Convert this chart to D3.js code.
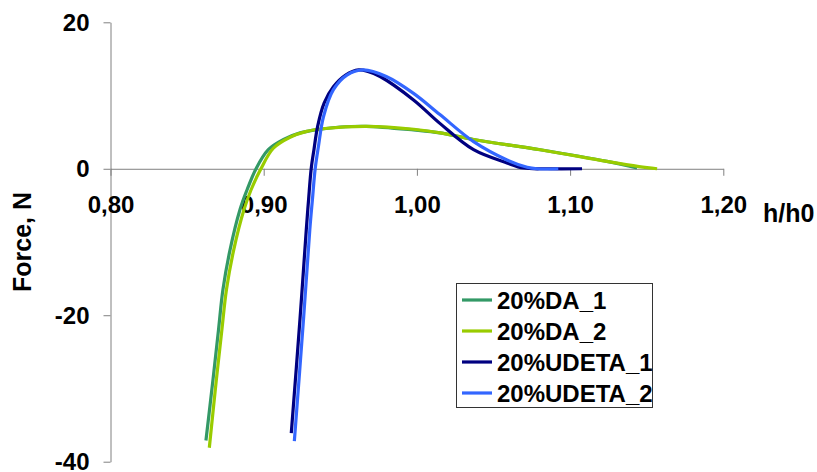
<!DOCTYPE html>
<html>
<head>
<meta charset="utf-8">
<script src="https://cdn.jsdelivr.net/npm/d3@7"></script>
<style>
  body { margin: 0; background: #fff; }
  svg { display: block; }
  text { font-family: "Liberation Sans", Arial, sans-serif; font-weight: bold; fill: #000; }
</style>
</head>
<body>
<svg id="chart" width="817" height="472"></svg>
<script>
// ---- data ----
const seriesNames = ["20%DA_1", "20%DA_2", "20%UDETA_1", "20%UDETA_2"];
const seriesColors = ["#339966", "#99CC00", "#000080", "#3366FF"];

const da1X = [0.8623, 0.8669, 0.8705, 0.8734, 0.8780, 0.8845, 0.8891, 0.8950, 0.9030, 0.9130, 0.9238, 0.9368, 0.9500, 0.9670, 0.9978, 1.0152, 1.0370, 1.0805, 1.1240, 1.1437];
const da1F = [-37.1, -28.8, -22.0, -16.5, -11.1, -5.6, -2.9, 0.0, 2.6, 4.0, 4.9, 5.4, 5.7, 5.8, 5.3, 4.9, 4.0, 2.6, 1.0, 0.1];

const da2X = [0.8645, 0.8691, 0.8727, 0.8757, 0.8804, 0.8871, 0.8917, 0.8982, 0.9063, 0.9172, 0.9280, 0.9400, 0.9670, 0.9980, 1.0152, 1.0370, 1.0805, 1.1240, 1.1450, 1.1568];
const da2F = [-38.1, -28.8, -22.0, -16.5, -11.1, -5.6, -2.9, 0.0, 2.8, 4.3, 5.1, 5.5, 5.8, 5.4, 4.9, 4.0, 2.6, 1.0, 0.3, 0.0];

const ud1X = [0.9180, 0.9237, 0.9278, 0.9293, 0.9310, 0.9328, 0.9352, 0.9395, 0.9455, 0.9535, 0.9620, 0.9680, 0.9760, 0.9978, 1.0150, 1.0370, 1.0588, 1.0696, 1.0850, 1.1078];
const ud1F = [-36.1, -20.5, -8.3, -4.2, 0.0, 2.6, 5.8, 9.0, 11.2, 12.8, 13.5, 13.3, 12.6, 9.4, 6.2, 2.6, 0.8, 0.1, 0.0, 0.0];

const ud2X = [0.9200, 0.9260, 0.9301, 0.9318, 0.9336, 0.9357, 0.9390, 0.9455, 0.9543, 0.9650, 0.9800, 0.9978, 1.0150, 1.0370, 1.0588, 1.0720, 1.0784, 1.0923];
const ud2F = [-37.2, -20.5, -8.3, -4.2, 0.0, 3.0, 7.1, 10.8, 12.8, 13.5, 12.6, 10.3, 7.4, 3.7, 1.2, 0.2, 0.0, 0.0];

const xTicks = [0.80, 0.90, 1.00, 1.10, 1.20];
const yTicks = [20, 0, -20, -40];
const xTitle = "h/h0";
const yTitle = "Force, N";

const allX = [da1X, da2X, ud1X, ud2X];
const allF = [da1F, da2F, ud1F, ud2F];

// ---- chart ----
const svg = d3.select("#chart");
const x = d3.scaleLinear().domain([0.8, 1.2]).range([110.5, 723.3]);
const y = d3.scaleLinear().domain([-40, 20]).range([461.7, 22.3]);
const axisColor = "#808080";
const fmtX = d => d3.format(".2f")(d).replace(".", ",");
const fmtY = d => String(d);
const tickFont = "24px";

// y axis
const yAxis = svg.append("g").attr("transform", `translate(${x(0.8)},0)`)
  .call(d3.axisLeft(y).tickValues(yTicks).tickSize(7).tickSizeOuter(0).tickFormat(fmtY));
yAxis.select(".domain").attr("stroke", axisColor);
yAxis.selectAll(".tick line").attr("stroke", axisColor);
yAxis.selectAll(".tick text").attr("x", -21).attr("dy", "0.34em")
  .style("font-size", tickFont).style("font-family", "'Liberation Sans', Arial, sans-serif").style("font-weight", "bold").attr("fill", "#000");

// x axis at y=0
const xAxis = svg.append("g").attr("transform", `translate(0,${y(0)})`)
  .call(d3.axisBottom(x).tickValues(xTicks).tickSize(7).tickSizeOuter(0).tickFormat(fmtX));
xAxis.select(".domain").attr("stroke", axisColor);
xAxis.selectAll(".tick line").attr("stroke", axisColor);
xAxis.selectAll(".tick text").attr("y", 44.5).attr("dy", 0)
  .style("font-size", tickFont).style("font-family", "'Liberation Sans', Arial, sans-serif").style("font-weight", "bold").attr("fill", "#000");

// axis titles
svg.append("text").attr("x", 763).attr("y", 222).style("font-size", "25px").text(xTitle);
svg.append("text").attr("transform", "translate(31,242) rotate(-90)")
  .attr("text-anchor", "middle").style("font-size", "25px").text(yTitle);

// lines
const line = d3.line().x(d => x(d[0])).y(d => y(d[1])).curve(d3.curveCatmullRom.alpha(0.5));
seriesNames.forEach((name, i) => {
  const pts = allX[i].map((v, j) => [v, allF[i][j]]);
  svg.append("path").datum(pts)
    .attr("fill", "none").attr("stroke", seriesColors[i]).attr("stroke-width", 3.2)
    .attr("stroke-linejoin", "round").attr("d", line);
});

// legend
const lg = svg.append("g");
lg.append("rect").attr("x", 456.5).attr("y", 283.5).attr("width", 196).attr("height", 124)
  .attr("fill", "#fff").attr("stroke", "#333").attr("stroke-width", 1);
seriesNames.forEach((name, i) => {
  const cy = 300 + i * 31;
  lg.append("line").attr("x1", 462).attr("x2", 492).attr("y1", cy).attr("y2", cy)
    .attr("stroke", seriesColors[i]).attr("stroke-width", 3.2);
  lg.append("text").attr("x", 497).attr("y", cy + 8.5).style("font-size", "24px").text(name);
});
</script>
</body>
</html>
